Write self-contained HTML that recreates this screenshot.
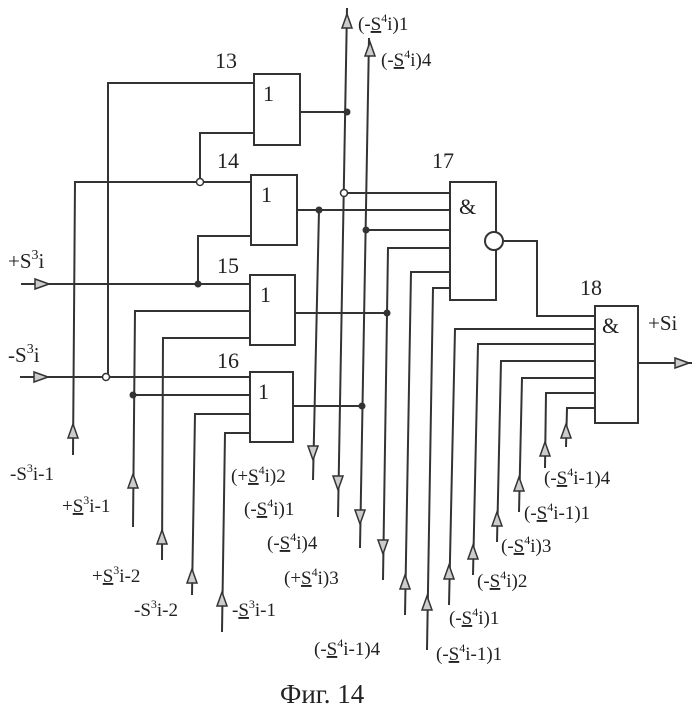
<!DOCTYPE html>
<html><head><meta charset="utf-8"><style>
html,body{margin:0;padding:0;background:#fff;}
svg{display:block;}
text{font-family:"Liberation Serif",serif;fill:#222;}
</style></head><body>
<svg width="698" height="715" viewBox="0 0 698 715" xmlns="http://www.w3.org/2000/svg">
<defs>
<symbol id="up" viewBox="-6 -8 12 16" overflow="visible"><path d="M0,-8 L5,6 L-5,6 Z" fill="#ccc" stroke="#333" stroke-width="1.5"/></symbol>
</defs>
<g stroke="#333" stroke-width="2" fill="none">
<rect x="254" y="74" width="46" height="71" fill="#fff"/>
<rect x="251" y="175" width="46" height="70" fill="#fff"/>
<rect x="250" y="275" width="45" height="70" fill="#fff"/>
<rect x="250" y="372" width="43" height="70" fill="#fff"/>
<rect x="450" y="182" width="46" height="118" fill="#fff"/>
<rect x="595" y="306" width="43" height="117" fill="#fff"/>
<polyline points="254,83 108,83 108,377"/>
<polyline points="254,133 200,133 200,182"/>
<polyline points="251,182 75,182 73,455"/>
<polyline points="251,236 198,236 198,284"/>
<line x1="21" y1="284" x2="250" y2="284"/>
<polyline points="250,311 135,311 133,527"/>
<polyline points="250,338 163,338 162,560"/>
<line x1="20" y1="377" x2="250" y2="377"/>
<line x1="133" y1="395" x2="250" y2="395"/>
<polyline points="250,414 195,414 192,595"/>
<polyline points="250,433 225,433 222,632"/>
<line x1="300" y1="112" x2="347" y2="112"/>
<line x1="297" y1="210" x2="450" y2="210"/>
<line x1="295" y1="313" x2="387" y2="313"/>
<line x1="293" y1="406" x2="364" y2="406"/>
<line x1="347" y1="8" x2="338" y2="517"/>
<line x1="369" y1="38" x2="360" y2="548"/>
<line x1="319" y1="210" x2="313" y2="480"/>
<line x1="344" y1="193" x2="450" y2="193"/>
<line x1="366" y1="230" x2="450" y2="230"/>
<polyline points="450,248 388,248 383,580"/>
<polyline points="450,272 411,272 405,615"/>
<polyline points="450,288 433,288 427,650"/>
<circle cx="494" cy="241" r="9" fill="#fff"/>
<polyline points="503,241 537,241 537,316 595,316"/>
<polyline points="595,329 455,329 449,605"/>
<polyline points="595,344 478,344 473,575"/>
<polyline points="595,361 501,361 497,542"/>
<polyline points="595,378 522,378 519,512"/>
<polyline points="595,393 546,393 545,468"/>
<polyline points="595,408 567,408 566,447"/>
<line x1="638" y1="363" x2="692" y2="363"/>
</g>
<g fill="#333">
<circle cx="347" cy="112" r="3.5"/><circle cx="319" cy="210" r="3.5"/>
<circle cx="366" cy="230" r="3.5"/><circle cx="387" cy="313" r="3.5"/>
<circle cx="362" cy="406" r="3.5"/><circle cx="198" cy="284" r="3.5"/>
<circle cx="133" cy="395" r="3.5"/>
</g>
<g fill="#fff" stroke="#333" stroke-width="1.5">
<circle cx="200" cy="182" r="3.5"/><circle cx="106" cy="377" r="3.5"/><circle cx="344" cy="193" r="3.5"/>
</g>
<g>
<use href="#up" x="341" y="14" width="12" height="16"/>
<use href="#up" x="364" y="42" width="12" height="16"/>
<use href="#up" x="67" y="424" width="12" height="16"/>
<use href="#up" x="127" y="474" width="12" height="16"/>
<use href="#up" x="156" y="530" width="12" height="16"/>
<use href="#up" x="186" y="569" width="12" height="16"/>
<use href="#up" x="216" y="592" width="12" height="16"/>
<use href="#up" x="399" y="575" width="12" height="16"/>
<use href="#up" x="421" y="596" width="12" height="16"/>
<use href="#up" x="443" y="565" width="12" height="16"/>
<use href="#up" x="467" y="545" width="12" height="16"/>
<use href="#up" x="491" y="512" width="12" height="16"/>
<use href="#up" x="513" y="477" width="12" height="16"/>
<use href="#up" x="539" y="442" width="12" height="16"/>
<use href="#up" x="560" y="424" width="12" height="16"/>
<g transform="rotate(180 313 452)"><use href="#up" x="307" y="444" width="12" height="16"/></g>
<g transform="rotate(180 338 482)"><use href="#up" x="332" y="474" width="12" height="16"/></g>
<g transform="rotate(180 360 516)"><use href="#up" x="354" y="508" width="12" height="16"/></g>
<g transform="rotate(180 383 546)"><use href="#up" x="377" y="538" width="12" height="16"/></g>
<g transform="rotate(90 41 284)"><use href="#up" x="35" y="276" width="12" height="16"/></g>
<g transform="rotate(90 40 377)"><use href="#up" x="34" y="369" width="12" height="16"/></g>
<g transform="rotate(90 681 363)"><use href="#up" x="675" y="355" width="12" height="16"/></g>
</g>
<g font-size="22">
<text x="215" y="68">13</text><text x="217" y="168">14</text>
<text x="217" y="273">15</text><text x="217" y="368">16</text>
<text x="432" y="168">17</text><text x="580" y="295">18</text>
<text x="263" y="101">1</text><text x="261" y="202">1</text>
<text x="260" y="302">1</text><text x="258" y="399">1</text>
<text x="459" y="214">&amp;</text><text x="602" y="333">&amp;</text>
</g>
<g font-size="21">
<text x="8" y="268">+S<tspan dy="-9" font-size="14">3</tspan><tspan dy="9">i</tspan></text>
<text x="8" y="362">-S<tspan dy="-9" font-size="14">3</tspan><tspan dy="9">i</tspan></text>
<text x="648" y="330">+Si</text>
</g>
<g font-size="19">
<text x="10" y="480">-S<tspan dy="-8" font-size="12">3</tspan><tspan dy="8">i-1</tspan></text>
<text x="62" y="512">+<tspan text-decoration="underline">S</tspan><tspan dy="-8" font-size="12">3</tspan><tspan dy="8">i-1</tspan></text>
<text x="92" y="582">+<tspan text-decoration="underline">S</tspan><tspan dy="-8" font-size="12">3</tspan><tspan dy="8">i-2</tspan></text>
<text x="134" y="616">-S<tspan dy="-8" font-size="12">3</tspan><tspan dy="8">i-2</tspan></text>
<text x="232" y="616">-<tspan text-decoration="underline">S</tspan><tspan dy="-8" font-size="12">3</tspan><tspan dy="8">i-1</tspan></text>
<text x="358" y="30">(-<tspan text-decoration="underline">S</tspan><tspan dy="-8" font-size="12">4</tspan><tspan dy="8">i)1</tspan></text>
<text x="381" y="66">(-<tspan text-decoration="underline">S</tspan><tspan dy="-8" font-size="12">4</tspan><tspan dy="8">i)4</tspan></text>
<text x="231" y="482">(+<tspan text-decoration="underline">S</tspan><tspan dy="-8" font-size="12">4</tspan><tspan dy="8">i)2</tspan></text>
<text x="244" y="515">(-<tspan text-decoration="underline">S</tspan><tspan dy="-8" font-size="12">4</tspan><tspan dy="8">i)1</tspan></text>
<text x="267" y="549">(-<tspan text-decoration="underline">S</tspan><tspan dy="-8" font-size="12">4</tspan><tspan dy="8">i)4</tspan></text>
<text x="284" y="584">(+<tspan text-decoration="underline">S</tspan><tspan dy="-8" font-size="12">4</tspan><tspan dy="8">i)3</tspan></text>
<text x="314" y="655">(-<tspan text-decoration="underline">S</tspan><tspan dy="-8" font-size="12">4</tspan><tspan dy="8">i-1)4</tspan></text>
<text x="436" y="660">(-<tspan text-decoration="underline">S</tspan><tspan dy="-8" font-size="12">4</tspan><tspan dy="8">i-1)1</tspan></text>
<text x="449" y="624">(-<tspan text-decoration="underline">S</tspan><tspan dy="-8" font-size="12">4</tspan><tspan dy="8">i)1</tspan></text>
<text x="477" y="587">(-<tspan text-decoration="underline">S</tspan><tspan dy="-8" font-size="12">4</tspan><tspan dy="8">i)2</tspan></text>
<text x="501" y="552">(-<tspan text-decoration="underline">S</tspan><tspan dy="-8" font-size="12">4</tspan><tspan dy="8">i)3</tspan></text>
<text x="524" y="519">(-<tspan text-decoration="underline">S</tspan><tspan dy="-8" font-size="12">4</tspan><tspan dy="8">i-1)1</tspan></text>
<text x="544" y="484">(-<tspan text-decoration="underline">S</tspan><tspan dy="-8" font-size="12">4</tspan><tspan dy="8">i-1)4</tspan></text>
</g>
<text x="280" y="703" font-size="27">Фиг. 14</text>
</svg>
</body></html>
